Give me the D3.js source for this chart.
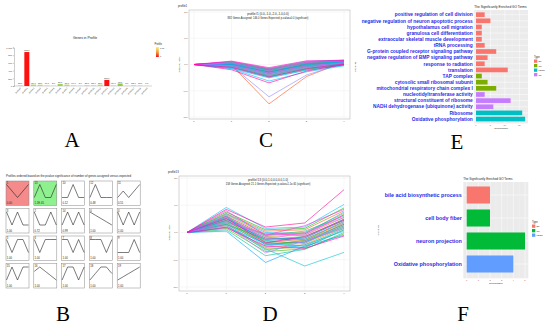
<!DOCTYPE html>
<html>
<head>
<meta charset="utf-8">
<script src="https://cdn.jsdelivr.net/npm/d3@7"></script>
<style>
body{margin:0;background:#fff;}
svg{display:block;font-family:'Liberation Sans',Arial,sans-serif;}
</style>
</head>
<body>
<script>
// A : genes in each profile
var profileIds = [0,1,2,3,4,5,6,7,8,9,10,11,12,13,14,15,16,17,18,19];
var geneCounts = [22,882,37,33,17,2,55,36,17,5,25,22,35,158,20,65,3,22,15,0];
var profilePvals = [1.00,0,0.72,1.00,1.00,1.00,1.00,1.00,1.00,1.00,0.12,0.51,0.48,1.1e-65,0.99,1.00,1.00,1.00,1.00,1.00];
var yTicksA = [0,200,400,600,800,1000];

// B : model profiles
var boxOrder = [1,13,10,12,11,3,2,14,0,4,5,6,7,8,9,15,16,17,18,19];
var boxPvalText = ['0.00','1.1E-65','0.12','0.48','0.51','1.00','0.72','0.99','1.00','1.00',
  '1.00','1.00','1.00','1.00','1.00','1.00','1.00','1.00','1.00','1.00'];
var profileShapes = [
  [0,-1,-2,-3,-4],[0,-1,-2,-1,0],[0,-1,-1,0,-1],[0,-1,0,-1,-1],[0,-1,0,-1,0],
  [0,-1,0,0,-1],[0,-1,0,0,0],[0,0,-1,0,-1],[0,0,0,-1,0],[0,0,0,1,0],
  [0,0,1,0,0],[0,1,0,1,2],[0,1,0,0,0],[0,1,0,0,1],[0,1,0,1,0],
  [0,1,0,1,1],[0,1,0,-1,-2],[0,1,1,0,1],[0,1,2,2,1],[0,1,2,3,4]
];

// C, D : expression of genes in profile 1 and 13
var timePoints = ['0','1','2','3','4'];
var logTicks = [-2,-1,0,1,2];
var genesP1 = [
  [0,0.05,-0.22,-0.05,0.10],[0,0.02,-0.30,0.02,0.12],[0,-0.04,-0.35,-0.08,0.05],[0,-0.02,-1.50,-0.46,0.10],
  [0,0.08,-0.18,0.05,0.15],[0,-0.10,-0.42,-0.12,0.02],[0,0.00,-0.27,-0.02,0.08],[0,0.10,-0.15,0.10,0.16],
  [0,-0.06,-0.38,-0.15,0.00],[0,0.03,-0.25,0.00,0.11],[0,-0.02,-0.31,-0.06,0.06],[0,0.06,-0.20,0.04,0.13],
  [0,-0.08,-0.45,-0.18,-0.02],[0,0.01,-0.28,-0.03,0.09],[0,0.04,-0.23,0.06,0.14],[0,-0.05,-0.40,-0.10,0.04],
  [0,0.07,-0.19,0.08,0.12],[0,-0.12,-0.48,-0.20,0.00],[0,-0.01,-0.33,-0.04,0.07],[0,0.09,-0.16,0.12,0.17],
  [0,-0.03,-0.36,-0.09,0.05],[0,0.02,-0.26,-0.01,0.10],[0,-0.16,-0.63,-0.28,-0.05],[0,-0.07,-0.43,-0.14,0.03],
  [0,0.05,-0.21,0.03,0.12],[0,-0.15,-0.51,-0.22,-0.03],[0,0.00,-0.29,0.01,0.09],[0,0.03,-0.34,-0.07,0.08],
  [0,-0.05,-1.23,-0.40,0.05],[0,-0.09,-0.39,-0.11,0.01],[0,0.06,-0.24,0.07,0.15],[0,-0.04,-0.32,-0.05,0.06],
  [0,0.11,-0.17,0.09,0.14],[0,0.13,-0.12,0.14,0.16],[0,-0.11,-0.47,-0.16,0.02],[0,-0.20,-0.70,-0.25,0.00]
];
var genesP13 = [
  [0,0.45,-0.25,-0.20,0.45],[0,0.60,-0.10,-0.05,0.65],[0,0.30,-0.40,-0.35,0.30],[0,0.70,0.05,0.10,0.80],
  [0,0.25,-0.55,-0.45,0.20],[0,0.50,-0.20,-0.30,0.40],[0,0.35,-0.35,-0.25,0.35],[0,0.55,-0.15,-0.10,0.55],
  [0,0.20,-0.60,-0.55,0.10],[0,0.65,-0.05,0.00,0.70],[0,0.40,-0.30,-0.40,0.25],[0,0.15,-0.70,-0.60,-0.05],
  [0,0.75,0.10,0.15,0.90],[0,0.45,-0.45,-0.30,0.30],[0,0.30,-0.25,-0.15,0.45],[0,0.60,-0.35,-0.50,0.15],
  [0,0.10,-0.85,-0.62,0.00],[0,0.50,-0.10,0.05,0.60],[0,0.33,-0.60,-1.23,-0.73],[0,0.38,-0.50,-0.35,0.20],
  [0,0.92,0.15,0.20,1.03],[0,0.28,-0.65,-0.45,0.05],[0,0.55,-0.30,-0.20,0.50],[0,0.20,-0.40,-0.55,0.10],
  [0,0.68,0.00,-0.05,0.75],[0,0.42,-0.20,-0.25,0.40],[0,0.05,-1.10,-0.50,-0.10],[0,0.58,-0.45,-0.35,0.25],
  [0,0.48,-0.15,-0.40,0.35],[0,0.25,-0.75,-0.30,0.15],[0,0.62,-0.25,0.00,0.55],[0,0.36,-0.05,-0.10,0.65],
  [0,0.80,-0.10,0.25,0.85],[0,0.18,-0.50,-0.58,-0.13],[0,0.52,-0.38,-0.15,0.48],[0,0.85,0.20,0.35,1.57]
];

// E : enriched GO terms (all genes)
var goTerms = ['positive regulation of cell division','negative regulation of neuron apoptotic process',
  'hypothalamus cell migration','granulosa cell differentiation','extraocular skeletal muscle development',
  'tRNA processing','G-protein coupled receptor signaling pathway','negative regulation of BMP signaling pathway',
  'response to radiation','translation','TAP complex','cytosolic small ribosomal subunit',
  'mitochondrial respiratory chain complex I','nucleotidyltransferase activity','structural constituent of ribosome',
  'NADH dehydrogenase (ubiquinone) activity','Ribosome','Oxidative phosphorylation'];
var goCounts = [3,5,2,2,2,3,7,4,3,11,2,4,7,3,12,6,16,17];
var goTypes = ['BP','BP','BP','BP','BP','BP','BP','BP','BP','BP','CC','CC','CC','MF','MF','MF','KEGG','KEGG'];
var typesE = ['BP','CC','KEGG','MF'];
var gnTicksE = [0,5,10,15];

// F : enriched GO terms (profile 13)
var fTerms = ['bile acid biosynthetic process','cell body fiber','neuron projection','Oxidative phosphorylation'];
var fCounts = [2,2,5,4];
var fTypes = ['BP','CC','CC','KEGG'];
var typesF = ['BP','CC','KEGG'];
var gnTicksF = [0,1,2,3,4,5];


var svg = d3.select('body').append('svg').attr('width',550).attr('height',328);

function huePal(n){
  return d3.range(n).map(function(i){ return d3.hcl(15+360*i/n,100,65).formatHex(); });
}

function letter(t,x,y){
  svg.append('text').attr('x',x).attr('y',y).attr('text-anchor','middle')
    .attr('font-family','"Liberation Serif","Times New Roman",serif').attr('font-size',21).text(t);
}

function smallText(g,t,x,y,size,anchor){
  return g.append('text').attr('x',x).attr('y',y).attr('font-size',size)
    .attr('text-anchor',anchor||'start').attr('fill','#222').text(t);
}

//---------------- A
var gA = svg.append('g');
var xA = d3.scaleBand().domain(profileIds).range([16,151]).padding(0.25);
var yA = d3.scaleLinear().domain([0,1000]).range([86,47.5]);
var shadeA = d3.scaleLinear().domain([0,70]).range(['#e6ef9e','#8fc63a']);

smallText(gA,'Genes in Profile',85,39,3.4,'middle');

var axA = gA.append('g').attr('transform','translate(14,0)')
  .call(d3.axisLeft(yA).tickValues(yTicksA).tickSize(1.2).tickPadding(0.8));
axA.selectAll('text').attr('font-size',2.3).attr('fill','#333');
axA.selectAll('line,path').attr('stroke','#555').attr('stroke-width',0.3);
gA.append('line').attr('x1',14).attr('x2',152).attr('y1',86).attr('y2',86)
  .attr('stroke','#777').attr('stroke-width',0.3);

gA.selectAll('.barA').data(profileIds).enter().append('rect').attr('class','barA')
  .attr('x',function(d){return xA(d);})
  .attr('y',function(d){return Math.min(yA(geneCounts[d]),85.2);})
  .attr('width',xA.bandwidth())
  .attr('height',function(d){return Math.max(86-yA(geneCounts[d]),0.8);})
  .attr('fill',function(d){return profilePvals[d]<0.05 ? '#ff1010' : shadeA(geneCounts[d]);});

gA.selectAll('.valA').data(profileIds).enter().append('text').attr('class','valA')
  .attr('x',function(d){return xA(d)+xA.bandwidth()/2;})
  .attr('y',function(d){return Math.min(yA(geneCounts[d]),85.2)-0.8;})
  .attr('text-anchor','middle').attr('font-size',2.2).attr('fill','#333')
  .text(function(d){return d3.format('.1f')(geneCounts[d]);});

gA.selectAll('.labA').data(profileIds).enter().append('text').attr('class','labA')
  .attr('transform',function(d){return 'translate('+(xA(d)+xA.bandwidth()/2+1)+',88.5) rotate(-45)';})
  .attr('text-anchor','end').attr('font-size',2.2).attr('fill','#555')
  .text(function(d){return 'profile'+d;});

var grad = svg.append('defs').append('linearGradient').attr('id','pgrad')
  .attr('x1',0).attr('x2',0).attr('y1',0).attr('y2',1);
grad.append('stop').attr('offset','0%').attr('stop-color','#f2f27a');
grad.append('stop').attr('offset','50%').attr('stop-color','#f5a040');
grad.append('stop').attr('offset','100%').attr('stop-color','#ee1010');
smallText(gA,'Profile',154.5,45,2.6);
gA.append('rect').attr('x',156).attr('y',47).attr('width',2.8).attr('height',10).attr('fill','url(#pgrad)');
smallText(gA,'0.01',160,49,2.2);
smallText(gA,'0',160,57,2.2);

letter('A',72,147);

//---------------- B
var gB = svg.append('g');
smallText(gB,'Profiles ordered based on the pvalue significance of number of genes assigned versus expected',6,176.5,2.95);
var sigFills = ['#f48a8a','#8ff08f'];
var sigCount = 0;
boxOrder.forEach(function(id,i){
  var col = i%5, row = Math.floor(i/5);
  var bx = 6+col*27.8, by = 181+row*27.5, bw = 23, bh = 24.5;
  var fill = '#fff';
  if(boxPvalText[i]!=='1.00' && +boxPvalText[i] < 0.05){ fill = sigFills[sigCount++]; }
  gB.append('rect').attr('x',bx).attr('y',by).attr('width',bw).attr('height',bh)
    .attr('fill',fill).attr('stroke','#888').attr('stroke-width',0.5);
  var shape = profileShapes[id];
  var sx = d3.scalePoint().domain(timePoints).range([bx+0.5,bx+bw-0.5]);
  var sy = d3.scaleLinear().domain(d3.extent(shape)).range([by+16.5,by+3.5]);
  gB.append('path').datum(shape)
    .attr('d',d3.line().x(function(d,j){return sx(timePoints[j]);}).y(function(d){return sy(d);}))
    .attr('fill','none').attr('stroke','#222').attr('stroke-width',0.6);
  smallText(gB,String(id),bx+0.8,by+3.2,2.7);
  smallText(gB,boxPvalText[i],bx+0.8,by+bh-1.2,2.7);
});
letter('B',63,321);

//---------------- C & D
function profilePanel(opts){
  var g = svg.append('g');
  var x = d3.scalePoint().domain(timePoints).range(opts.xr);
  var y = d3.scaleLinear().domain([-2,2]).range(opts.yr);
  g.append('rect').attr('x',opts.fx).attr('y',opts.fy).attr('width',opts.fw).attr('height',opts.fh)
    .attr('fill','#fff').attr('stroke','#aaa').attr('stroke-width',0.5);
  g.selectAll('.hg').data(logTicks).enter().append('line')
    .attr('x1',opts.fx).attr('x2',opts.fx+opts.fw).attr('y1',y).attr('y2',y)
    .attr('stroke','#ececec').attr('stroke-width',0.4);
  g.selectAll('.vg').data(timePoints).enter().append('line')
    .attr('x1',x).attr('x2',x).attr('y1',opts.fy).attr('y2',opts.fy+opts.fh)
    .attr('stroke','#ececec').attr('stroke-width',0.4);
  g.selectAll('.yl').data(logTicks).enter().append('text')
    .attr('x',opts.fx-1.5).attr('y',function(d){return y(d)+0.8;}).attr('text-anchor','end')
    .attr('font-size',2.3).attr('fill','#444').text(function(d){return d3.format('.1f')(d);});
  g.selectAll('.xl').data(timePoints).enter().append('text')
    .attr('x',x).attr('y',opts.fy+opts.fh+3).attr('text-anchor','middle')
    .attr('font-size',2.3).attr('fill','#444').text(function(d){return d;});
  var pal = huePal(opts.data.length);
  var line = d3.line().x(function(d,j){return x(timePoints[j]);}).y(function(d){return y(d);});
  g.selectAll('.gl').data(opts.data).enter().append('path')
    .attr('d',line).attr('fill','none').attr('stroke-width',0.6)
    .attr('stroke',function(d,i){return pal[i];});
  smallText(g,opts.name,opts.fx-11,opts.fy-3,2.8);
  smallText(g,opts.t1,opts.tx,opts.fy+5,3,'middle');
  smallText(g,opts.t2,opts.tx,opts.fy+9,2.6,'middle');
  g.append('text').attr('transform','translate('+(opts.fx-9)+','+y(0)+') rotate(-90)')
    .attr('text-anchor','middle').attr('font-size',2.4).attr('fill','#333').text('log2(V/C ratio)');
}

profilePanel({data:genesP1, xr:[194,344], yr:[117,12], fx:189, fy:10, fw:161, fh:109, tx:268,
  name:'profile1', t1:'profile#1 (0.0,-1.0,-2.0,-1.0,0.0)',
  t2:'882 Genes Assigned; 146.0 Genes Expected; p-value=0.0 (significant)'});
letter('C',266,147);

profilePanel({data:genesP13, xr:[187,344], yr:[287,178], fx:179, fy:176, fw:171, fh:115, tx:268,
  name:'profile13', t1:'profile#13 (0.0,1.0,0.0,0.0,1.0)',
  t2:'158 Genes Assigned; 21.1 Genes Expected; p-value=1.1e-65 (significant)'});
letter('D',270,321);

//---------------- E & F
function goPanel(opts){
  var g = svg.append('g');
  var color = d3.scaleOrdinal().domain(opts.types).range(opts.colors);
  var y = d3.scaleBand().domain(opts.terms).range(opts.yr).paddingInner(opts.pad).paddingOuter(opts.pad/2);
  var x = d3.scaleLinear().domain([0,opts.max]).range(opts.xr);
  smallText(g,'The Significantly Enriched GO Terms',opts.px,opts.py-2.5,opts.titleSize);
  g.append('rect').attr('x',opts.px).attr('y',opts.py).attr('width',opts.pw).attr('height',opts.ph).attr('fill','#ebebeb');
  g.selectAll('.mg').data(opts.minor).enter().append('line')
    .attr('x1',x).attr('x2',x).attr('y1',opts.py).attr('y2',opts.py+opts.ph)
    .attr('stroke','#f6f6f6').attr('stroke-width',0.3);
  g.selectAll('.vg').data(opts.ticks).enter().append('line')
    .attr('x1',x).attr('x2',x).attr('y1',opts.py).attr('y2',opts.py+opts.ph)
    .attr('stroke','#fff').attr('stroke-width',0.5);
  g.selectAll('.hg').data(opts.terms).enter().append('line')
    .attr('x1',opts.px).attr('x2',opts.px+opts.pw)
    .attr('y1',function(d){return y(d)+y.bandwidth()/2;}).attr('y2',function(d){return y(d)+y.bandwidth()/2;})
    .attr('stroke','#fff').attr('stroke-width',0.5);
  g.selectAll('.bar').data(opts.terms).enter().append('rect')
    .attr('x',x(0)).attr('y',function(d){return y(d);})
    .attr('width',function(d,i){return x(opts.counts[i])-x(0);}).attr('height',y.bandwidth())
    .attr('fill',function(d,i){return color(opts.typeOf[i]);});
  g.selectAll('.lab').data(opts.terms).enter().append('text')
    .attr('x',opts.px-1.5).attr('y',function(d){return y(d)+y.bandwidth()/2;}).attr('dy','0.36em')
    .attr('text-anchor','end').attr('font-size',opts.labSize).attr('font-weight','bold')
    .attr('fill','#2a2ae8').text(function(d){return d;});
  g.selectAll('.tk').data(opts.ticks).enter().append('text')
    .attr('x',x).attr('y',opts.py+opts.ph+2.6).attr('text-anchor','middle')
    .attr('font-size',2.3).attr('fill','#c04848').text(function(d){return d;});
  smallText(g,'GeneNumber',(opts.px+opts.px+opts.pw)/2,opts.py+opts.ph+5.4,2.3,'middle');
  g.append('text').attr('transform','translate('+opts.ytx+','+(opts.py+opts.ph/2)+') rotate(-90)')
    .attr('text-anchor','middle').attr('font-size',2.3).attr('fill','#333').text('GO terms');
  smallText(g,'Type',opts.lx,opts.ly,2.6);
  opts.types.forEach(function(t,i){
    g.append('rect').attr('x',opts.lx).attr('y',opts.ly+2+i*4.5).attr('width',3.3).attr('height',3.3).attr('fill',color(t));
    smallText(g,t,opts.lx+4.5,opts.ly+4.6+i*4.5,2.2);
  });
}

goPanel({terms:goTerms, counts:goCounts, typeOf:goTypes, types:typesE,
  colors:['#F8766D','#7CAE00','#00BFC4','#C77CFF'], max:17, ticks:gnTicksE, minor:[2.5,7.5,12.5],
  xr:[476,525.1], yr:[11.6,122.1], pad:0.24, px:474.3, py:10, pw:53.7, ph:113.5,
  labSize:4.85, titleSize:3.2, ytx:356, lx:534, ly:57.5});
letter('E',457,149);

goPanel({terms:fTerms, counts:fCounts, typeOf:fTypes, types:typesF,
  colors:['#F8766D','#00BA38','#619CFF'], max:5, ticks:gnTicksF, minor:[0.5,1.5,2.5,3.5,4.5],
  xr:[466.7,525], yr:[183.5,275.5], pad:0.26, px:463.3, py:182, pw:65, ph:96.3,
  labSize:5.4, titleSize:3, ytx:379, lx:532, ly:222.5});
letter('F',463,321);
</script>
</body>
</html>
